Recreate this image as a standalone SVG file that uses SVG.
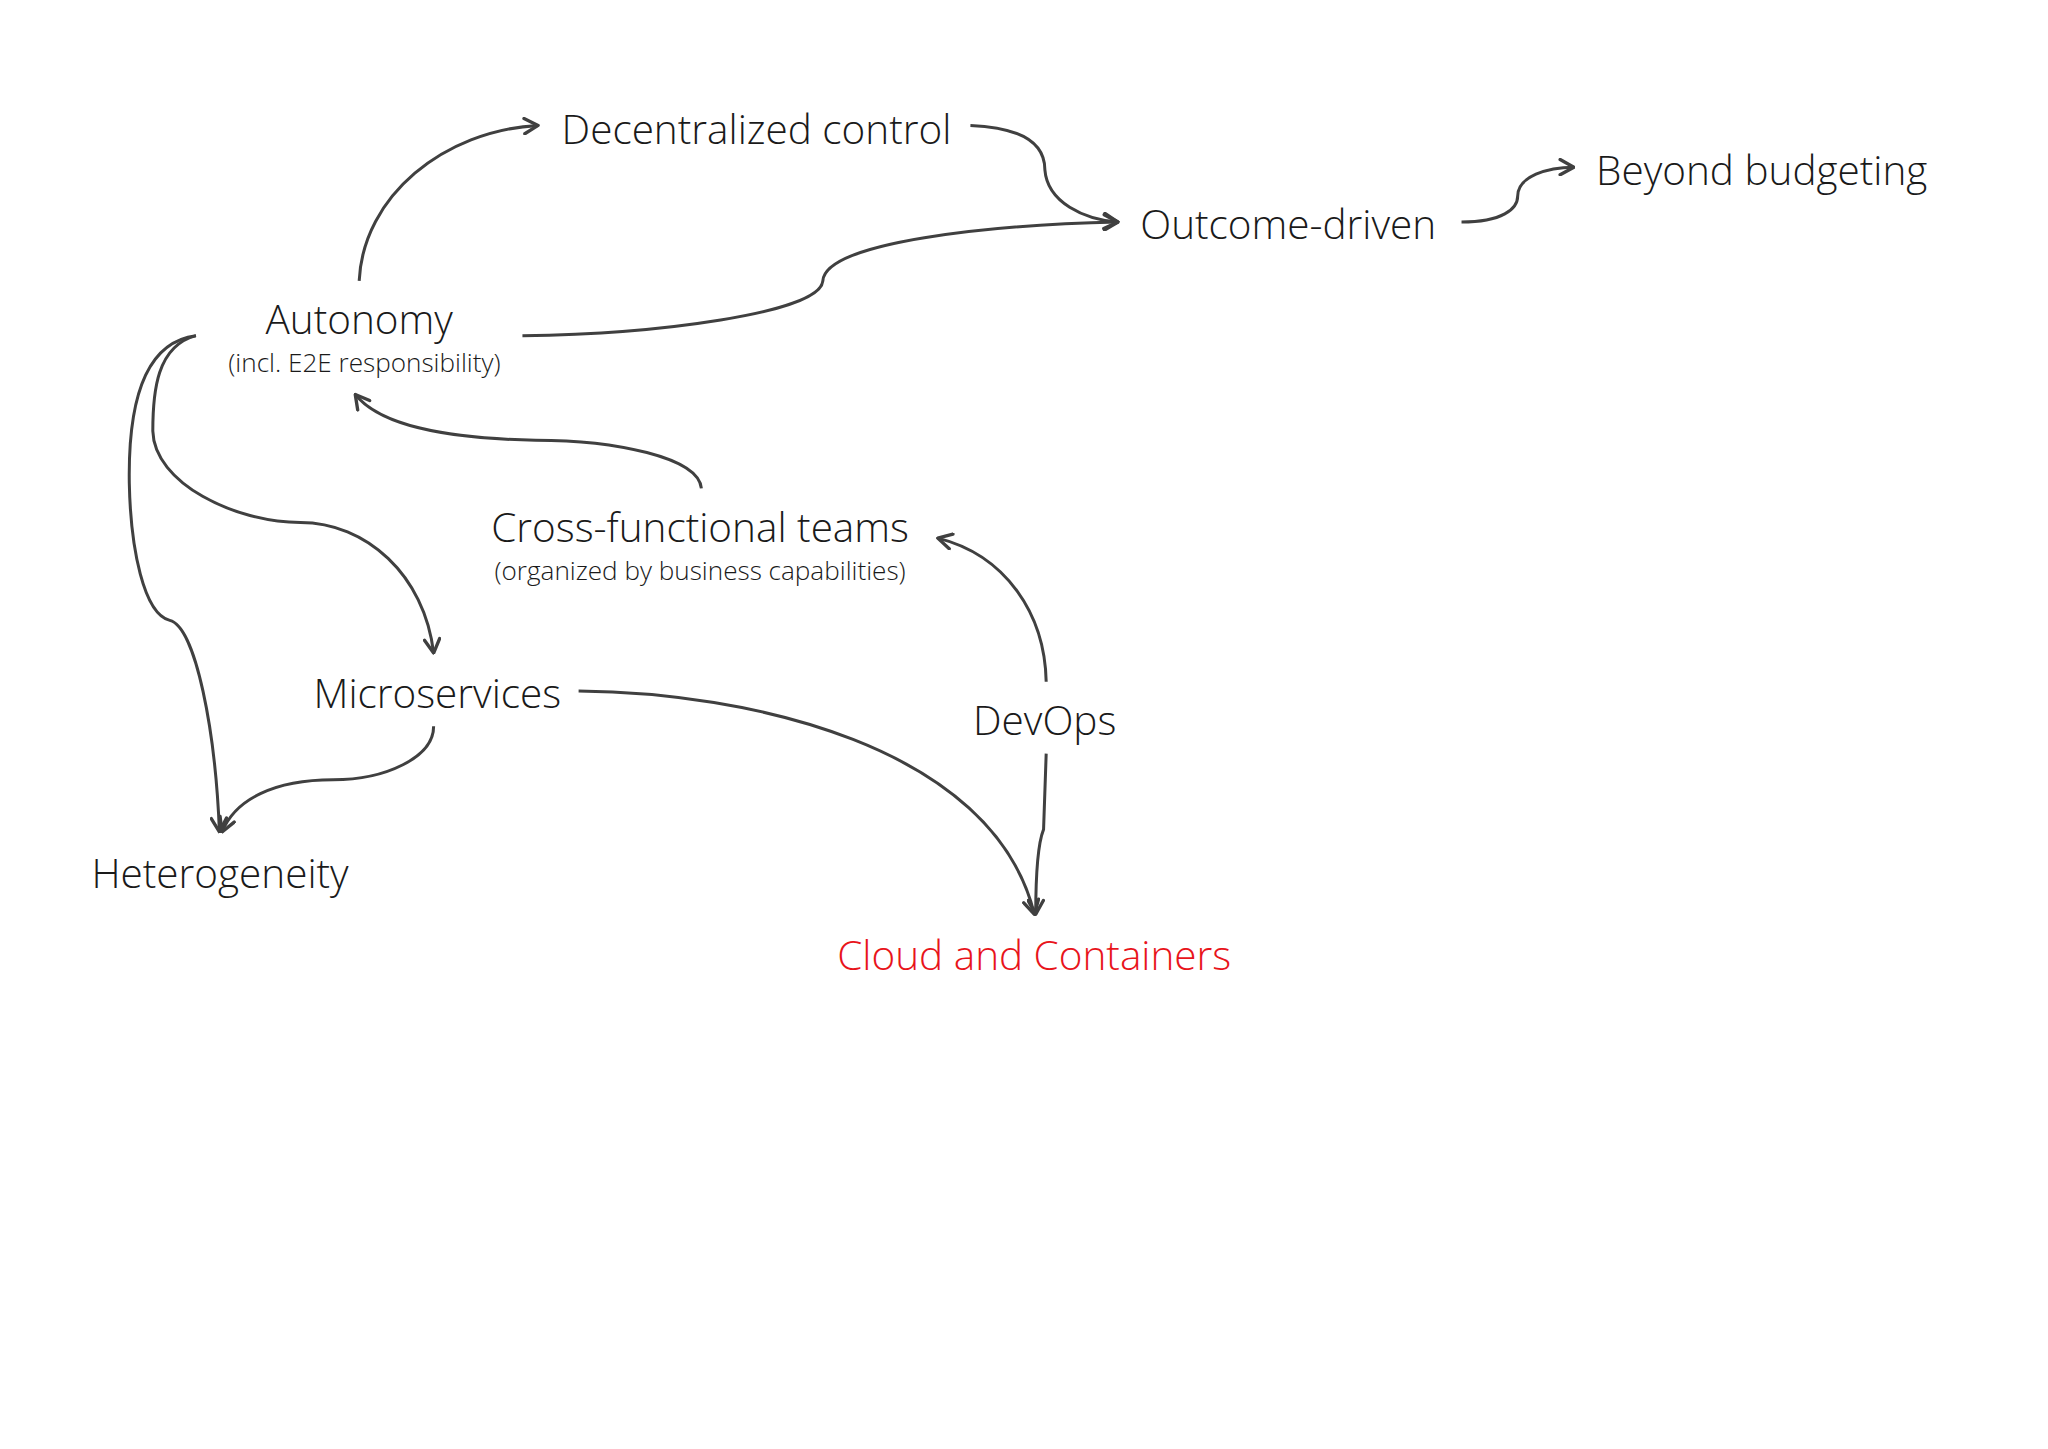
<svg xmlns="http://www.w3.org/2000/svg" width="2048" height="1449" viewBox="0 0 2048 1449">
<style>
.t{font-family:"Open Sans","Noto Sans","Liberation Sans",sans-serif;font-weight:300;fill:#1a1a1a;font-size:31px}
.s{font-size:20px}
.red{fill:#e8141b}
.c path{fill:none;stroke:#404040;stroke-width:2.3;marker-end:url(#a)}
</style>
<defs>
<marker id="a" viewBox="0 0 12 12" refX="11" refY="6" markerWidth="14" markerHeight="14" markerUnits="userSpaceOnUse" orient="auto">
<path d="M2,1 L11,6 L2,11" fill="none" stroke="#404040" stroke-width="2.2" stroke-linecap="round" stroke-linejoin="round"/>
</marker>
</defs>
<rect width="2048" height="1449" fill="#fff"/>
<g transform="scale(1.3061)">
<g class="c" id="connectors">
<path d="M275,215 C278,150 340,100 412,96"/>
<path d="M743,96 C790,98 800,115 800,130 C802,155 830,168 856,170"/>
<path d="M400,257 C500,256 628,240 630,215 C632,185 760,172 856,170"/>
<path d="M1119,170 C1150,170 1162,160 1162,150 C1162,135 1185,128 1205,128"/>
<path d="M537,374 C535,350 470,337 410,337 C340,336 290,325 272,302"/>
<path d="M150,257 C120,265 117,300 117,330 C118,370 180,400 230,400 C280,400 325,440 332,500"/>
<path d="M150,257 C110,262 98,310 99,370 C100,420 110,470 130,475 C150,480 165,560 168,637"/>
<path d="M332,556 C332,580 295,597 255,597 C210,597 180,612 170,637"/>
<path d="M443,529 C570,530 760,570 792,700"/>
<path d="M801,522 C800,470 770,425 718,412"/>
<path d="M801,577 L799,635 C795,645 793,670 793,700"/>
</g>
<g id="decentralized"><text class="t" x="430" y="110">Decentralized control</text></g>
<g id="outcome"><text class="t" x="873" y="183">Outcome-driven</text></g>
<g id="beyond"><text class="t" x="1222" y="142">Beyond budgeting</text></g>
<g id="autonomy"><text class="t" x="275" y="256" text-anchor="middle">Autonomy</text><text class="t s" x="279" y="285" text-anchor="middle">(incl. E2E responsibility)</text></g>
<g id="cross"><text class="t" x="536" y="415" text-anchor="middle">Cross-functional teams</text><text class="t s" x="536" y="444" text-anchor="middle">(organized by business capabilities)</text></g>
<g id="microservices"><text class="t" x="240" y="542">Microservices</text></g>
<g id="devops"><text class="t" x="745" y="563">DevOps</text></g>
<g id="heterogeneity"><text class="t" x="70" y="680">Heterogeneity</text></g>
<g id="cloud"><text class="t red" x="641" y="743">Cloud and Containers</text></g>
</g>
</svg>
